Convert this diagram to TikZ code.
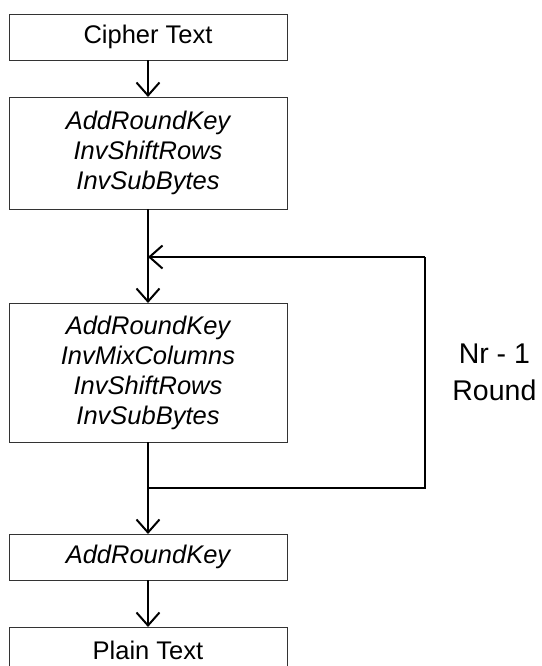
\documentclass[tikz,border=0pt]{standalone}
\usepackage{fontspec}
\setmainfont{Liberation Sans}
\usetikzlibrary{positioning}
\usetikzlibrary{arrows.meta}

\begin{document}
\begin{tikzpicture}[block/.style={draw=black!80, line width=0.5pt, rectangle, minimum width=139pt, outer sep=0pt, align=center, font=\fontsize{12.75pt}{15pt}\selectfont},
	ops/.style={block, font=\fontsize{12.75pt}{15pt}\selectfont\itshape},
	flow/.style={line width=1pt, -{Straight Barb[length=6.5pt,width=11.5pt]}}]
			\useasboundingbox (0,0) rectangle (271pt,-333pt);
			\node (cipher) [block, minimum height=23pt] at (74pt,-18.5pt) {Cipher Text}
			node (first)   [ops, minimum height=56pt, below=18.5pt of cipher]   {AddRoundKey\\InvShiftRows\\InvSubBytes}
			node (rounds)  [ops, minimum height=69.5pt, below=47pt of first]   {AddRoundKey\\InvMixColumns\\InvShiftRows\\InvSubBytes}
			node (last)    [ops, minimum height=23pt, below=46pt of rounds]    {AddRoundKey}
			node (plain)   [block, minimum height=23pt, below=23.5pt of last]  {Plain Text}
			node (count)   [align=center, inner sep=0pt, font=\fontsize{14.25pt}{18.5pt}\selectfont, right=82.5pt of rounds] {Nr - 1\\Round};
			% loop corners
			\coordinate[below=24pt of first] (loopin);
			\coordinate[below=23pt of rounds] (loopout);
			\coordinate[right=138.5pt of loopin] (cornerup);
			\coordinate[right=138.5pt of loopout] (cornerdown);
			\draw[flow] (cipher) -- (first);
			\draw[flow] (first) -- (rounds);
			\draw[line width=1pt] (rounds) -- (loopout) -- (cornerdown) -- (cornerup);
			\draw[flow] (cornerup) -- (loopin);
			\draw[flow] (loopout) -- (last);
			\draw[flow] (last) -- (plain);
\end{tikzpicture}
\end{document}
